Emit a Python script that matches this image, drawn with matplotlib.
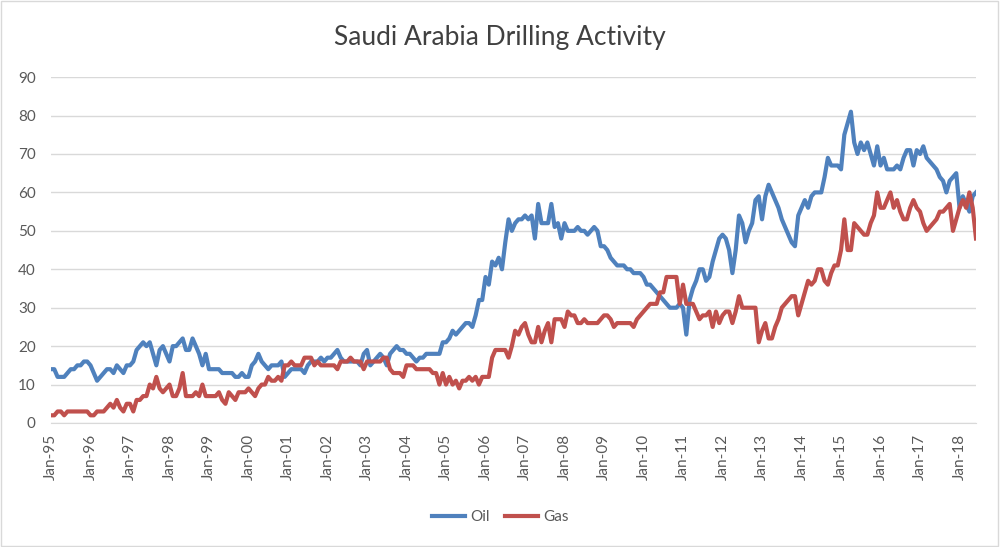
import matplotlib
matplotlib.use("Agg")
import matplotlib.pyplot as plt
from matplotlib.patches import Rectangle

plt.rcParams['font.family'] = ['Lato', 'DejaVu Sans']

# monthly rig counts, Jan-95 .. Jun-18
oil = [14, 14, 12, 12, 12, 13, 14, 14, 15, 15, 16, 16,   # 1995
       15, 13, 11, 12, 13, 14, 14, 13, 15, 14, 13, 15,   # 1996
       15, 16, 19, 20, 21, 20, 21, 18, 15, 19, 20, 18,   # 1997
       16, 20, 20, 21, 22, 19, 19, 22, 20, 18, 15, 18,   # 1998
       14, 14, 14, 14, 13, 13, 13, 13, 12, 12, 13, 12,   # 1999
       12, 15, 16, 18, 16, 15, 14, 15, 15, 15, 16, 12,   # 2000
       13, 14, 14, 14, 14, 13, 15, 16, 16, 16, 17, 16,   # 2001
       17, 17, 18, 19, 17, 16, 16, 16, 16, 16, 15, 18,   # 2002
       19, 15, 16, 17, 18, 17, 15, 18, 19, 20, 19, 19,   # 2003
       18, 18, 17, 16, 17, 17, 18, 18, 18, 18, 18, 21,   # 2004
       21, 22, 24, 23, 24, 25, 26, 26, 25, 28, 32, 32,   # 2005
       38, 36, 42, 41, 43, 40, 47, 53, 50, 52, 53, 53,   # 2006
       54, 53, 54, 48, 57, 52, 52, 52, 57, 51, 52, 48,   # 2007
       52, 50, 50, 50, 51, 50, 50, 49, 50, 51, 50, 46,   # 2008
       46, 45, 43, 42, 41, 41, 41, 40, 40, 39, 39, 39,   # 2009
       38, 36, 36, 35, 34, 33, 32, 31, 30, 30, 30, 31,   # 2010
       30, 23, 32, 35, 37, 40, 40, 37, 38, 42, 45, 48,   # 2011
       49, 48, 45, 39, 45, 54, 52, 47, 50, 52, 58, 59,   # 2012
       53, 59, 62, 60, 58, 56, 53, 51, 49, 47, 46, 54,   # 2013
       56, 58, 56, 59, 60, 60, 60, 64, 69, 67, 67, 67,   # 2014
       66, 75, 78, 81, 73, 70, 73, 71, 73, 70, 67, 72,   # 2015
       67, 69, 66, 66, 66, 67, 66, 69, 71, 71, 67, 71,   # 2016
       70, 72, 69, 68, 67, 66, 64, 63, 60, 63, 64, 65,   # 2017
       56, 59, 57, 55, 59, 60]                           # 2018

gas = [2, 2, 3, 3, 2, 3, 3, 3, 3, 3, 3, 3,               # 1995
       2, 2, 3, 3, 3, 4, 5, 4, 6, 4, 3, 5,               # 1996
       5, 3, 6, 6, 7, 7, 10, 9, 12, 9, 8, 9,             # 1997
       10, 7, 7, 9, 13, 7, 7, 7, 8, 7, 10, 7,            # 1998
       7, 7, 7, 8, 6, 5, 8, 7, 6, 8, 8, 8,               # 1999
       9, 8, 7, 9, 10, 10, 12, 11, 11, 12, 11, 15,       # 2000
       15, 16, 15, 15, 15, 17, 17, 17, 15, 16, 15, 15,   # 2001
       15, 15, 15, 14, 16, 16, 16, 17, 16, 16, 16, 14,   # 2002
       16, 16, 16, 16, 16, 17, 17, 14, 13, 13, 13, 12,   # 2003
       15, 15, 15, 14, 14, 14, 14, 14, 13, 13, 10, 13,   # 2004
       10, 12, 10, 11, 9, 11, 11, 12, 11, 12, 10, 12,    # 2005
       12, 12, 17, 19, 19, 19, 19, 17, 20, 24, 23, 25,   # 2006
       26, 23, 21, 21, 25, 21, 24, 26, 21, 27, 27, 27,   # 2007
       25, 29, 28, 28, 26, 26, 27, 26, 26, 26, 26, 27,   # 2008
       28, 28, 27, 25, 26, 26, 26, 26, 26, 25, 27, 28,   # 2009
       29, 30, 31, 31, 31, 34, 34, 38, 38, 38, 38, 31,   # 2010
       36, 31, 31, 31, 29, 27, 28, 28, 29, 25, 29, 26,   # 2011
       28, 29, 29, 26, 29, 33, 30, 30, 30, 30, 30, 21,   # 2012
       24, 26, 22, 22, 25, 27, 30, 31, 32, 33, 33, 28,   # 2013
       31, 34, 37, 36, 37, 40, 40, 37, 36, 39, 41, 41,   # 2014
       45, 53, 45, 45, 52, 51, 50, 49, 49, 52, 54, 60,   # 2015
       56, 56, 58, 60, 56, 58, 55, 53, 53, 56, 58, 56,   # 2016
       55, 52, 50, 51, 52, 53, 55, 55, 56, 57, 50, 53,   # 2017
       56, 58, 56, 60, 56, 48]                           # 2018

years = ['95', '96', '97', '98', '99', '00', '01', '02', '03', '04', '05', '06',
         '07', '08', '09', '10', '11', '12', '13', '14', '15', '16', '17', '18']
tickLabels = ['Jan-' + y for y in years]

blue = '#4F81BD'
red = '#C0504D'
gray = '#595959'

fig = plt.figure(figsize=(10, 5.47), dpi=100)
ax = fig.add_axes([0.051, 0.2267, 0.925, 0.6323])

months = range(len(oil))
ax.plot(months, oil, color=blue, lw=3.0, label='Oil', solid_joinstyle='round')
ax.plot(months, gas, color=red, lw=3.0, label='Gas', solid_joinstyle='round')

ax.set_xlim(0, len(oil) - 1)
ax.set_ylim(0, 90)
ax.set_yticks(range(0, 91, 10))
ax.set_xticks([12 * k for k in range(len(tickLabels))])
ax.set_xticklabels(tickLabels, rotation=90)
ax.tick_params(axis='both', colors=gray, labelsize=11, length=0)
ax.tick_params(axis='x', pad=8)
ax.tick_params(axis='y', pad=11)
ax.grid(axis='y', color='#d9d9d9', lw=1)
ax.set_axisbelow(True)
for s in ['top', 'right', 'left']:
    ax.spines[s].set_visible(False)
ax.spines['bottom'].set_color('#d9d9d9')

fig.text(0.5, 0.932, 'Saudi Arabia Drilling Activity', ha='center', va='center',
         fontsize=19, color='#404040')

fig.legend(loc='center', bbox_to_anchor=(0.5, 0.055), ncol=2, frameon=False,
           fontsize=11, labelcolor=gray, handlelength=2.2, columnspacing=1.0,
           handletextpad=0.3)

fig.patches.append(Rectangle((0.001, 0.001), 0.997, 0.997, transform=fig.transFigure,
                             fill=False, edgecolor='#d9d9d9', lw=1))

fig.savefig('out.png', dpi=100)
